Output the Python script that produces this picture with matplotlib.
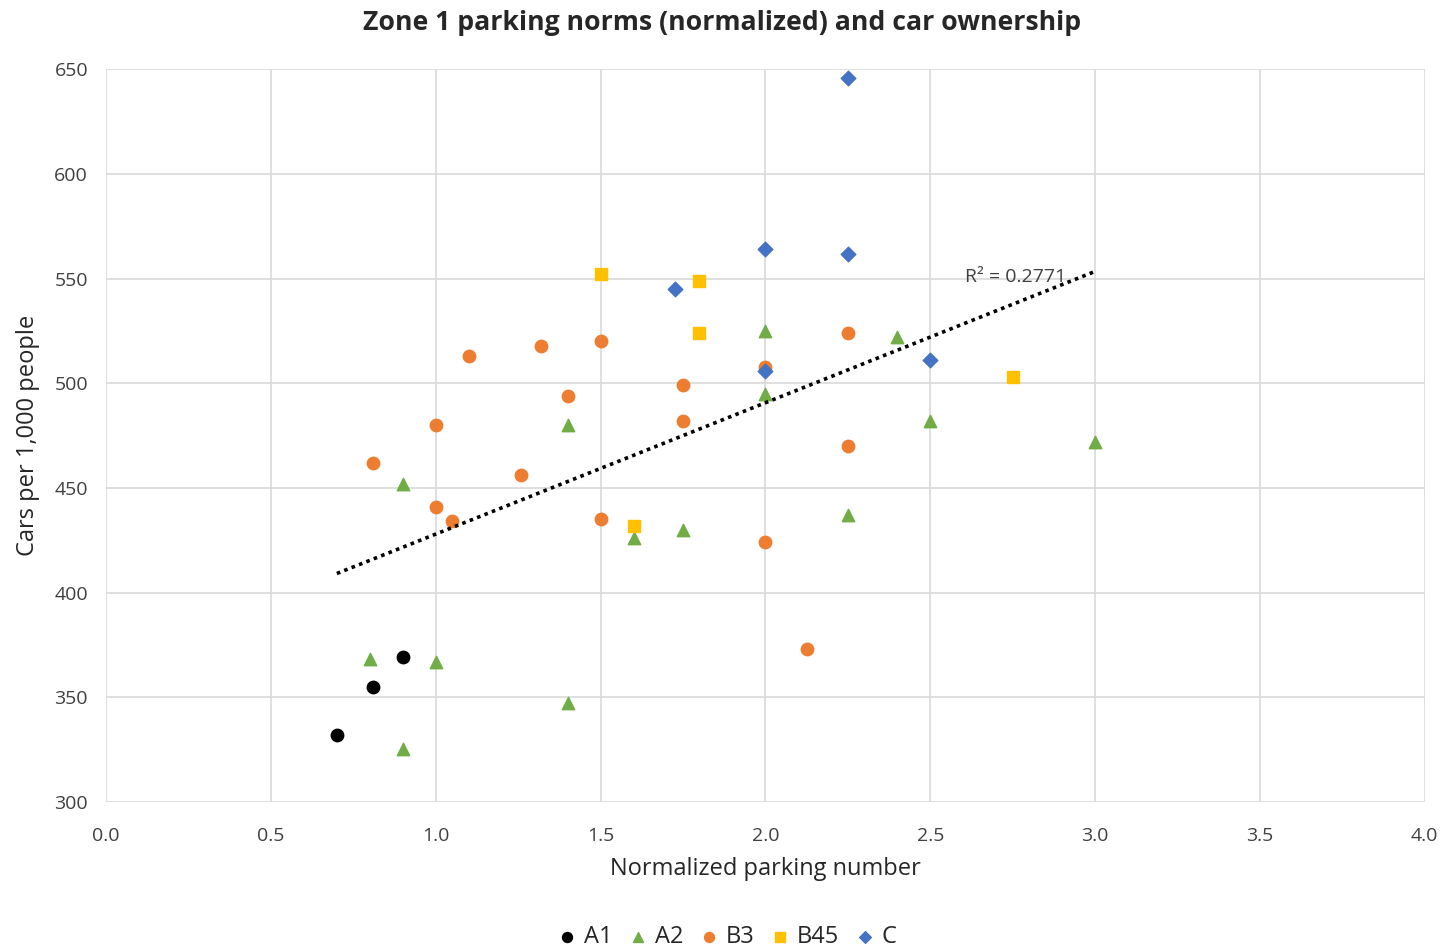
import matplotlib.pyplot as plt
import numpy as np

plt.rcParams['font.family'] = ['Open Sans', 'DejaVu Sans']

# group data: normalized parking number vs cars per 1,000 people
a1_x = [0.70, 0.81, 0.90]
a1_y = [332, 355, 369]

a2_x = [0.80, 1.00, 0.90, 1.40, 0.90, 1.40, 1.60, 1.75, 2.00, 2.00, 2.25, 2.40, 2.50, 3.00]
a2_y = [368, 367, 325, 347, 452, 480, 426, 430, 525, 495, 437, 522, 482, 472]

b3_x = [0.81, 1.00, 1.00, 1.05, 1.10, 1.26, 1.32, 1.40, 1.50, 1.50, 1.75, 1.75, 2.00, 2.00, 2.125, 2.25, 2.25]
b3_y = [462, 480, 441, 434, 513, 456, 518, 494, 520, 435, 499, 482, 424, 508, 373, 524, 470]

b45_x = [1.50, 1.80, 1.80, 1.60, 2.75]
b45_y = [552, 549, 524, 432, 503]

c_x = [2.25, 2.00, 2.25, 1.725, 2.00, 2.50]
c_y = [646, 564, 562, 545, 506, 511]

fig = plt.figure(figsize=(14.45, 9.5), dpi=100)
ax = fig.add_axes([0.0734, 0.156, 0.9126, 0.771])

ax.scatter(a1_x, a1_y, s=80, marker='o', color='#000000', label='A1', zorder=3)
ax.scatter(a2_x, a2_y, s=80, marker='^', color='#70AD47', label='A2', zorder=3)
ax.scatter(b3_x, b3_y, s=80, marker='o', color='#ED7D31', label='B3', zorder=3)
ax.scatter(b45_x, b45_y, s=85, marker='s', color='#FFC000', label='B45', zorder=3)
ax.scatter(c_x, c_y, s=55, marker='D', color='#4472C4', label='C', zorder=3)

# linear trendline over all points
all_x = np.array(a1_x + a2_x + b3_x + b45_x + c_x)
all_y = np.array(a1_y + a2_y + b3_y + b45_y + c_y)
slope, icpt = np.polyfit(all_x, all_y, 1)
tx = np.array([0.70, 3.00])
ax.plot(tx, slope * tx + icpt, color='black', linestyle=(0, (1, 1.2)), linewidth=2.6, zorder=4)
ax.text(2.605, 551, 'R² = 0.2771', fontsize=14, color='#404040', ha='left', va='center', zorder=5)

ax.set_xlim(0, 4.0)
ax.set_ylim(300, 650)
ax.set_xticks(np.arange(0, 4.01, 0.5))
ax.set_xticklabels(['%.1f' % v for v in np.arange(0, 4.01, 0.5)])
ax.set_yticks(np.arange(300, 651, 50))
ax.grid(True, color='#D9D9D9', linewidth=1.2)
ax.set_axisbelow(True)
for s in ax.spines.values():
    s.set_visible(False)
ax.tick_params(length=0, labelsize=14, colors='#404040')
ax.tick_params(axis='x', pad=18)
ax.tick_params(axis='y', pad=13)

ax.set_xlabel('Normalized parking number', fontsize=17, color='#262626', labelpad=9)
ax.set_ylabel('Cars per 1,000 people', fontsize=17, color='#262626', labelpad=10)
fig.suptitle('Zone 1 parking norms (normalized) and car ownership', fontsize=19.2,
             fontweight='bold', color='#262626', y=0.99)

fig.legend(loc='center', bbox_to_anchor=(0.5, 0.014), ncol=5, frameon=False,
           fontsize=17, handletextpad=-0.1, columnspacing=0.3, handlelength=1.6,
           markerscale=0.8, labelcolor='#262626', borderpad=0)

fig.savefig('out.png', dpi=100)
